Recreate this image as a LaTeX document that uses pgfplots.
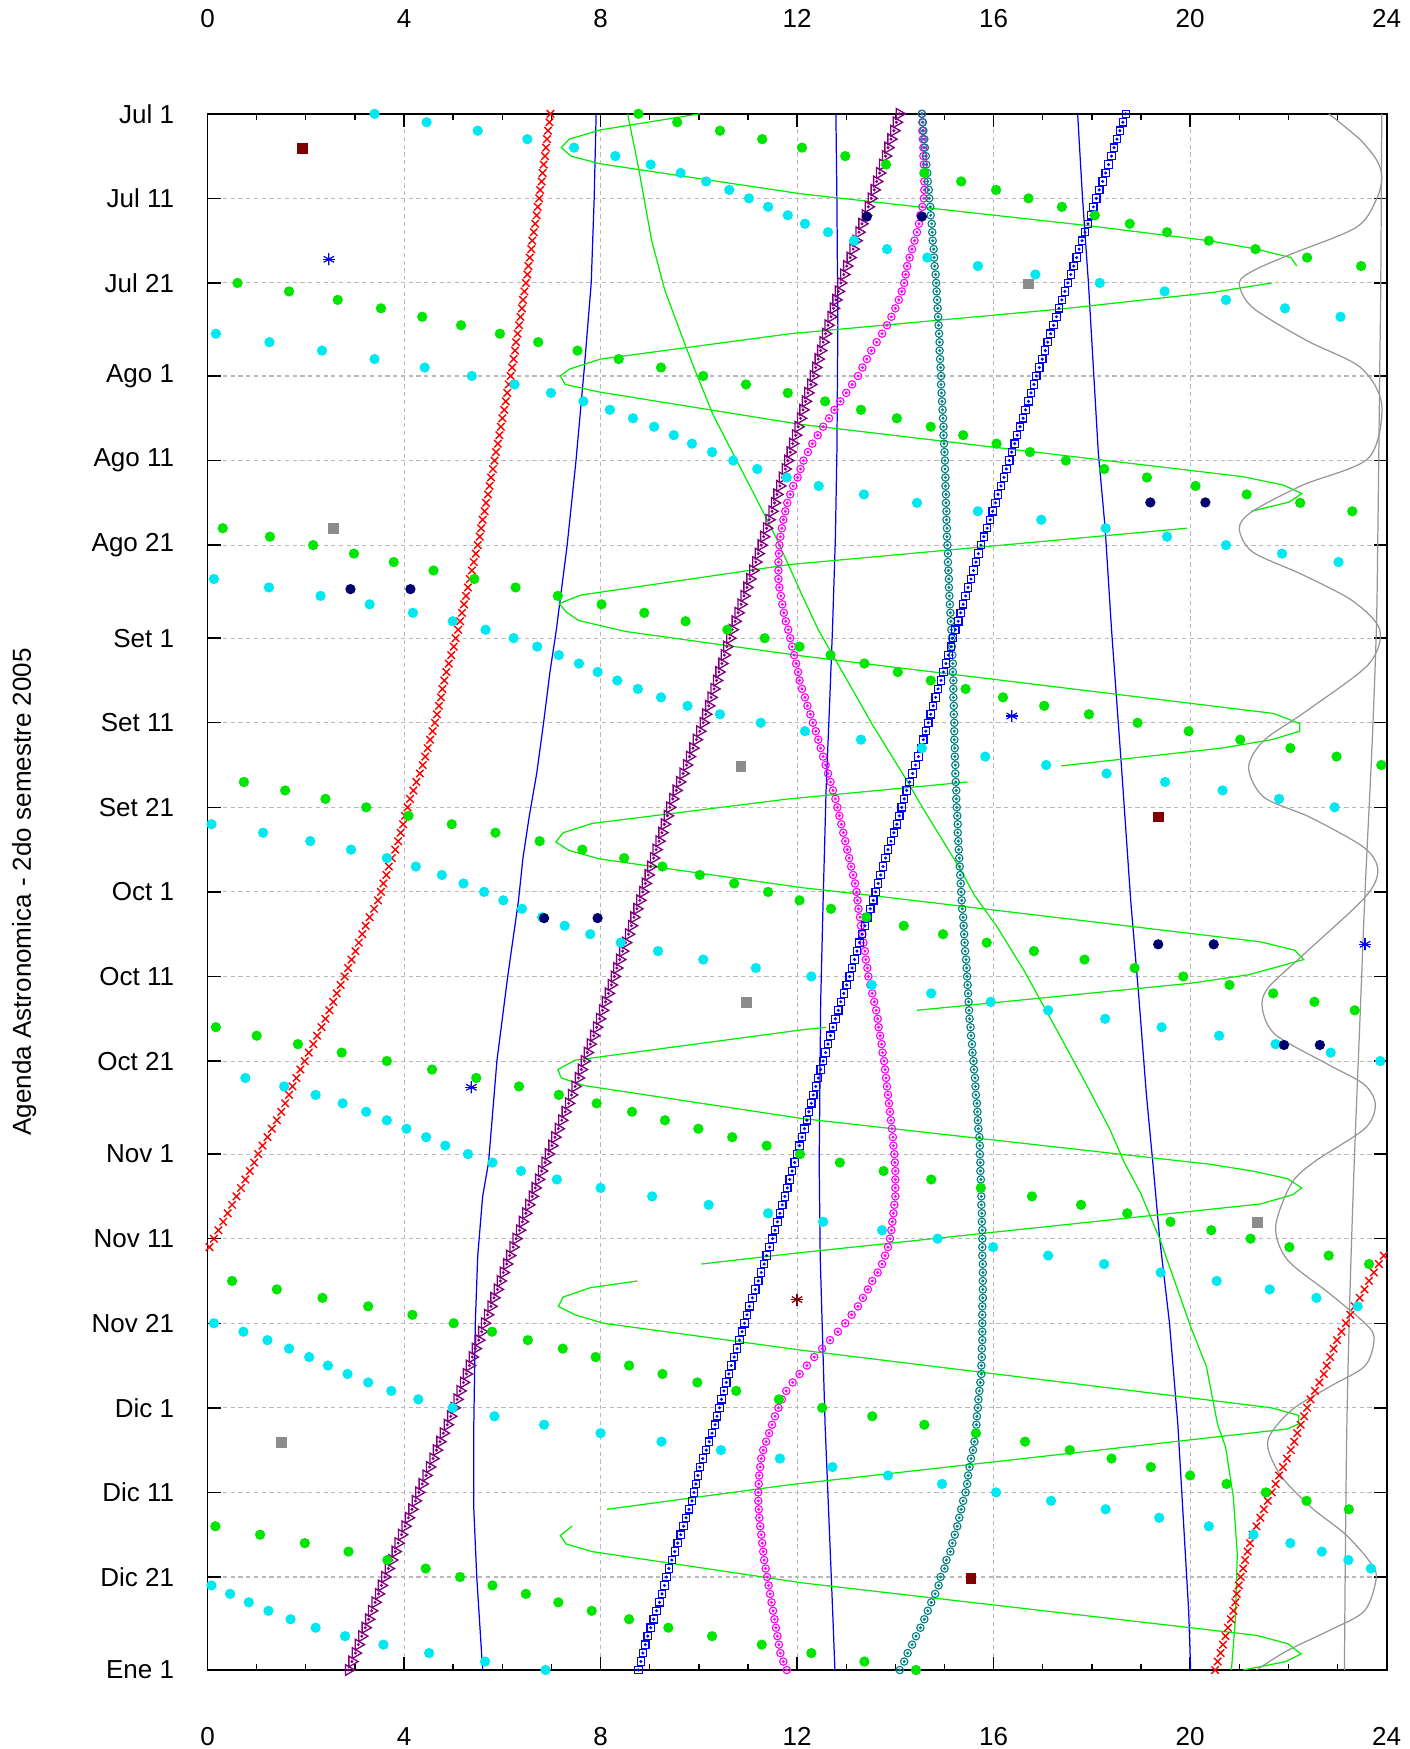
\documentclass[border=0pt]{standalone}
\usepackage{fontspec}
\setmainfont{Liberation Sans}
\usepackage{pgfplots}
\usepackage{pgfplotstable}
\pgfplotsset{compat=1.18}
\definecolor{gline}{RGB}{0,238,0}
\definecolor{gdot}{RGB}{0,230,0}
\definecolor{cdot}{RGB}{0,232,240}
\definecolor{tric}{RGB}{128,0,128}
\definecolor{navyc}{RGB}{0,0,110}
\definecolor{dred}{RGB}{128,0,0}
\definecolor{tealc}{RGB}{0,128,128}
\definecolor{grayc}{RGB}{140,140,140}
\definecolor{grayl}{RGB}{150,150,150}
\definecolor{magc}{RGB}{255,0,255}

\pgfplotstableread{
d tri mag teal sq red redb gr cy
0 14.08 14.54 14.54 18.69 6.98 nan 8.77 3.40
1 14.02 14.55 14.56 18.63 6.96 nan 9.56 4.46
2 13.97 14.55 14.57 18.57 6.93 nan 10.43 5.50
3 13.91 14.56 14.59 18.51 6.91 nan 11.29 6.51
4 13.85 14.57 14.60 18.45 6.89 nan 12.10 7.46
5 13.80 14.57 14.62 18.40 6.87 nan 12.98 8.30
6 13.74 14.58 14.63 18.34 6.84 nan 13.81 9.02
7 13.68 14.58 14.65 18.28 6.82 nan 14.59 9.63
8 13.62 14.59 14.66 18.22 6.80 nan 15.34 10.15
9 13.57 14.59 14.68 18.15 6.77 nan 16.05 10.62
10 13.51 14.58 14.69 18.09 6.75 nan 16.71 11.02
11 13.45 14.55 14.71 18.03 6.72 nan 17.39 11.41
12 13.39 14.51 14.72 17.98 6.70 nan 18.06 11.81
13 13.32 14.48 14.74 17.92 6.67 nan 18.77 12.16
14 13.26 14.44 14.75 17.86 6.64 nan 19.53 12.63
15 13.20 14.39 14.76 17.80 6.61 nan 20.38 13.16
16 13.14 14.34 14.78 17.74 6.59 nan 21.33 13.83
17 13.08 14.29 14.79 17.69 6.56 nan 22.38 14.65
18 13.01 14.24 14.80 17.63 6.53 nan 23.48 15.68
19 12.95 14.21 14.82 17.57 6.51 nan nan 16.85
20 12.89 14.18 14.83 17.51 6.48 nan 0.61 18.16
21 12.84 14.13 14.84 17.45 6.45 nan 1.66 19.48
22 12.79 14.07 14.85 17.39 6.42 nan 2.65 20.73
23 12.74 14.00 14.86 17.33 6.40 nan 3.53 21.93
24 12.69 13.92 14.87 17.28 6.37 nan 4.37 23.06
25 12.63 13.83 14.88 17.22 6.34 nan 5.16 nan
26 12.58 13.73 14.89 17.16 6.31 nan 5.95 0.17
27 12.53 13.62 14.90 17.10 6.28 nan 6.73 1.26
28 12.48 13.51 14.90 17.05 6.26 nan 7.53 2.33
29 12.43 13.42 14.91 16.99 6.23 nan 8.37 3.40
30 12.38 13.33 14.92 16.93 6.20 nan 9.23 4.42
31 12.33 13.24 14.93 16.87 6.17 nan 10.09 5.38
32 12.28 13.12 14.93 16.82 6.13 nan 10.96 6.25
33 12.22 13.00 14.94 16.76 6.10 nan 11.81 6.99
34 12.17 12.88 14.95 16.71 6.07 nan 12.57 7.65
35 12.12 12.76 14.96 16.65 6.04 nan 13.30 8.19
36 12.07 12.65 14.97 16.60 6.00 nan 14.03 8.66
37 12.02 12.53 14.98 16.54 5.97 nan 14.72 9.09
38 11.97 12.42 14.98 16.48 5.94 nan 15.38 9.49
39 11.91 12.31 14.99 16.43 5.91 nan 16.06 9.86
40 11.86 12.22 15.00 16.37 5.87 nan 16.74 10.27
41 11.81 12.13 15.01 16.32 5.84 nan 17.47 10.70
42 11.76 12.07 15.01 16.26 5.81 nan 18.25 11.19
43 11.70 12.01 15.02 16.21 5.77 nan 19.12 11.79
44 11.65 11.92 15.02 16.15 5.74 nan 20.11 12.44
45 11.59 11.86 15.03 16.09 5.71 nan 21.15 13.36
46 11.54 11.80 15.03 16.04 5.67 nan 22.24 14.44
47 11.49 11.76 15.04 15.98 5.64 nan 23.30 15.68
48 11.43 11.72 15.04 15.93 5.60 nan nan 16.97
49 11.38 11.69 15.05 15.87 5.57 nan 0.31 18.28
50 11.32 11.66 15.05 15.80 5.54 nan 1.27 19.53
51 11.27 11.64 15.06 15.74 5.50 nan 2.15 20.73
52 11.21 11.63 15.07 15.69 5.46 nan 2.98 21.87
53 11.16 11.62 15.07 15.64 5.42 nan 3.79 23.02
54 11.10 11.62 15.08 15.59 5.38 nan 4.60 nan
55 11.04 11.62 15.09 15.54 5.34 nan 5.43 0.13
56 10.98 11.64 15.09 15.48 5.30 nan 6.27 1.25
57 10.92 11.67 15.10 15.43 5.26 nan 7.13 2.30
58 10.86 11.70 15.11 15.38 5.22 nan 8.02 3.30
59 10.80 11.73 15.12 15.33 5.18 nan 8.89 4.18
60 10.74 11.77 15.13 15.28 5.14 nan 9.73 4.99
61 10.68 11.82 15.14 15.22 5.10 nan 10.58 5.66
62 10.63 11.86 15.15 15.17 5.05 nan 11.34 6.23
63 10.57 11.90 15.15 15.13 5.01 nan 12.05 6.71
64 10.52 11.94 15.16 15.08 4.96 nan 12.68 7.15
65 10.47 11.98 15.17 15.03 4.91 nan 13.37 7.56
66 10.41 12.02 15.17 14.98 4.86 nan 14.05 7.94
67 10.36 12.05 15.18 14.93 4.82 nan 14.72 8.34
68 10.31 12.10 15.18 14.87 4.78 nan 15.43 8.76
69 10.25 12.16 15.18 14.82 4.75 nan 16.19 9.23
70 10.20 12.21 15.19 14.77 4.71 nan 17.03 9.77
71 10.14 12.27 15.19 14.72 4.67 nan 17.94 10.43
72 10.09 12.32 15.20 14.67 4.63 nan 18.93 11.26
73 10.02 12.38 15.20 14.62 4.58 nan 19.97 12.16
74 9.95 12.43 15.20 14.57 4.53 nan 21.02 13.30
75 9.88 12.48 15.21 14.52 4.48 nan 22.04 14.54
76 9.81 12.53 15.21 14.47 4.43 nan 22.98 15.83
77 9.75 12.58 15.22 14.41 4.38 nan 23.89 17.07
78 9.68 12.63 15.22 14.35 4.32 nan nan 18.30
79 9.61 12.68 15.23 14.29 4.25 nan 0.74 19.49
80 9.54 12.73 15.24 14.23 4.19 nan 1.58 20.66
81 9.47 12.78 15.24 14.18 4.12 nan 2.40 21.81
82 9.41 12.82 15.25 14.13 4.07 nan 3.23 22.94
83 9.36 12.86 15.26 14.08 4.02 nan 4.09 nan
84 9.30 12.90 15.27 14.03 3.98 nan 4.97 0.08
85 9.25 12.94 15.27 13.97 3.93 nan 5.86 1.13
86 9.19 12.98 15.28 13.91 3.88 nan 6.76 2.09
87 9.13 13.02 15.29 13.85 3.82 nan 7.63 2.92
88 9.08 13.06 15.30 13.80 3.75 nan 8.48 3.65
89 9.02 13.10 15.31 13.75 3.69 nan 9.26 4.24
90 8.97 13.14 15.32 13.70 3.64 nan 10.02 4.77
91 8.91 13.18 15.33 13.65 3.58 nan 10.72 5.21
92 8.86 13.21 15.34 13.60 3.53 nan 11.41 5.63
93 8.80 13.23 15.35 13.55 3.47 nan 12.05 6.02
94 8.74 13.25 15.36 13.49 3.39 nan 12.69 6.40
95 8.68 13.28 15.38 13.43 3.30 nan 13.41 6.81
96 8.63 13.30 15.39 13.38 3.22 nan 14.17 7.27
97 8.57 13.33 15.40 13.32 3.15 nan 14.97 7.79
98 8.51 13.35 15.41 13.27 3.08 nan 15.86 8.41
99 8.45 13.38 15.42 13.22 3.01 nan 16.82 9.17
100 8.39 13.40 15.44 13.17 2.93 nan 17.85 10.09
101 8.33 13.43 15.45 13.12 2.86 nan 18.87 11.16
102 8.28 13.45 15.46 13.07 2.79 nan 19.86 12.29
103 8.22 13.49 15.47 13.01 2.71 nan 20.80 13.52
104 8.16 13.53 15.48 12.95 2.63 nan 21.69 14.73
105 8.10 13.57 15.49 12.89 2.56 nan 22.53 15.94
106 8.04 13.61 15.50 12.84 2.48 nan 23.35 17.11
107 7.98 13.64 15.51 12.78 2.40 nan nan 18.27
108 7.92 13.66 15.53 12.73 2.32 nan 0.17 19.42
109 7.86 13.69 15.54 12.68 2.23 nan 1.00 20.59
110 7.79 13.72 15.56 12.63 2.15 nan 1.84 21.74
111 7.73 13.74 15.57 12.58 2.06 nan 2.73 22.86
112 7.67 13.77 15.59 12.53 1.98 nan 3.65 23.87
113 7.61 13.79 15.60 12.48 1.89 nan 4.57 nan
114 7.55 13.81 15.62 12.43 1.81 nan 5.47 0.77
115 7.48 13.83 15.63 12.38 1.73 nan 6.34 1.56
116 7.41 13.85 15.64 12.33 1.66 nan 7.15 2.20
117 7.35 13.87 15.66 12.29 1.58 nan 7.92 2.75
118 7.28 13.89 15.67 12.24 1.50 nan 8.64 3.23
119 7.21 13.91 15.68 12.20 1.41 nan 9.31 3.65
120 7.14 13.93 15.69 12.15 1.31 nan 9.99 4.05
121 7.07 13.95 15.71 12.10 1.22 nan 10.68 4.45
122 7.01 13.96 15.72 12.05 1.12 nan 11.38 4.84
123 6.94 13.98 15.72 12.00 1.03 nan 12.06 5.30
124 6.87 13.99 15.73 11.95 0.95 nan 12.87 5.80
125 6.80 14.00 15.73 11.90 0.86 nan 13.76 6.38
126 6.74 14.00 15.74 11.85 0.77 nan 14.73 7.11
127 6.67 14.00 15.74 11.80 0.68 nan 15.74 8.00
128 6.61 14.00 15.75 11.75 0.59 nan 16.78 9.05
129 6.54 13.98 15.75 11.70 0.50 nan 17.78 10.20
130 6.48 13.96 15.76 11.65 0.41 nan 18.72 11.41
131 6.41 13.94 15.76 11.60 0.32 nan 19.60 12.53
132 6.35 13.92 15.77 11.55 0.22 nan 20.43 13.73
133 6.28 13.89 15.77 11.50 0.13 nan 21.23 14.86
134 6.22 13.85 15.77 11.44 0.04 nan 22.02 15.99
135 6.15 13.79 15.77 11.38 nan 23.94 22.82 17.11
136 6.09 13.73 15.78 11.33 nan 23.84 23.64 18.25
137 6.02 13.64 15.78 11.27 nan 23.74 nan 19.40
138 5.96 13.53 15.78 11.21 nan 23.64 0.50 20.54
139 5.90 13.44 15.78 11.15 nan 23.55 1.41 21.62
140 5.83 13.34 15.78 11.09 nan 23.45 2.34 22.57
141 5.77 13.24 15.77 11.03 nan 23.35 3.27 23.41
142 5.70 13.11 15.77 10.98 nan 23.26 4.17 nan
143 5.64 12.98 15.77 10.93 nan 23.17 5.01 0.13
144 5.58 12.83 15.77 10.88 nan 23.08 5.79 0.73
145 5.52 12.67 15.77 10.83 nan 22.99 6.52 1.22
146 5.45 12.51 15.76 10.78 nan 22.92 7.23 1.66
147 5.39 12.35 15.76 10.72 nan 22.85 7.90 2.07
148 5.33 12.20 15.75 10.66 nan 22.78 8.58 2.45
149 5.27 12.05 15.75 10.61 nan 22.72 9.26 2.85
150 5.21 11.91 15.73 10.56 nan 22.63 9.97 3.27
151 5.14 11.78 15.71 10.51 nan 22.54 10.76 3.74
152 5.08 11.69 15.69 10.46 nan 22.45 11.63 4.29
153 5.02 11.62 15.68 10.42 nan 22.38 12.51 4.99
154 4.95 11.55 15.66 10.37 nan 22.32 13.53 5.84
155 4.88 11.49 15.65 10.33 nan 22.25 14.59 6.85
156 4.80 11.43 15.64 10.27 nan 22.18 15.64 8.00
157 4.73 11.37 15.61 10.21 nan 22.12 16.64 9.24
158 4.66 11.31 15.58 10.15 nan 22.05 17.55 10.45
159 4.59 11.27 15.54 10.08 nan 21.97 18.40 11.65
160 4.52 11.25 15.51 10.02 nan 21.89 19.20 12.72
161 4.45 11.23 15.48 9.98 nan 21.81 20.00 13.85
162 4.37 11.22 15.46 9.94 nan 21.74 20.74 14.95
163 4.30 11.21 15.43 9.90 nan 21.66 21.54 16.05
164 4.23 11.21 15.38 9.86 nan 21.58 22.37 17.17
165 4.16 11.22 15.34 9.80 nan 21.50 23.23 18.28
166 4.09 11.23 15.30 9.74 nan 21.43 nan 19.37
167 4.02 11.25 15.26 9.69 nan 21.35 0.16 20.38
168 3.95 11.27 15.21 9.63 nan 21.27 1.07 21.29
169 3.88 11.29 15.16 9.57 nan 21.22 1.98 22.04
170 3.82 11.31 15.12 9.51 nan 21.17 2.87 22.68
171 3.75 11.33 15.04 9.45 nan 21.12 3.66 23.22
172 3.68 11.36 15.00 9.39 nan 21.08 4.44 23.68
173 3.61 11.39 14.92 9.34 nan 21.03 5.14 nan
174 3.54 11.42 14.88 9.30 nan 20.99 5.80 0.08
175 3.48 11.45 14.81 9.25 nan 20.95 6.48 0.46
176 3.41 11.48 14.73 9.20 nan 20.92 7.14 0.84
177 3.34 11.51 14.66 9.14 nan 20.88 7.82 1.24
178 3.28 11.54 14.59 9.08 nan 20.83 8.58 1.69
179 3.21 11.57 14.51 9.02 nan 20.77 9.38 2.20
180 3.14 11.60 14.42 8.96 nan 20.72 10.27 2.80
181 3.07 11.63 14.34 8.91 nan 20.67 11.28 3.58
182 3.01 11.66 14.25 8.86 nan 20.62 12.29 4.51
183 2.94 11.72 14.18 8.82 nan 20.56 13.37 5.65
184 2.87 11.79 14.09 8.77 nan 20.51 14.42 6.88
}\daily

\begin{document}
\begin{tikzpicture}
\useasboundingbox (-2.075,-0.79) rectangle (12.015,16.698);
\begin{axis}[at={(0,0)}, anchor=south west, scale only axis,
  width=11.79cm, height=15.56cm,
  xmin=0, xmax=24, ymin=0, ymax=184, y dir=reverse, clip=false,
  xtick={0,4,...,24}, minor x tick num=3,
  ytick={0,10,20,31,41,51,62,72,82,92,102,112,123,133,143,153,163,173,184},
  yticklabels={Jul 1,Jul 11,Jul 21,Ago 1,Ago 11,Ago 21,Set 1,Set 11,Set 21,Oct 1,Oct 11,Oct 21,Nov 1,Nov 11,Nov 21,Dic 1,Dic 11,Dic 21,Ene 1},
  grid=major,
  major grid style={dash pattern=on 1.2pt off 1pt, color=black!28, line width=0.3pt},
  major tick length=1.3mm, minor tick length=0.65mm,
  every tick/.style={black, line width=0.4pt},
  axis line style={black, line width=0.5pt},
  tick label style={font=\fontsize{7.4}{8.8}\selectfont},
  /pgf/number format/assume math mode=true,
  yticklabel style={xshift=-2.1mm},
  xticklabel style={yshift=-4.5mm},
  ylabel={Agenda Astronomica - 2do semestre 2005},
  every axis y label/.style={at={(axis description cs:-0.1555,0.5)}, anchor=center, rotate=90, font=\fontsize{7.4}{8.8}\selectfont},
]
% lines
\addplot[blue, line width=0.35pt, mark=none] coordinates {(7.91,0) (7.87,10) (7.81,20) (7.67,30) (7.50,41) (7.32,51) (7.10,61) (6.97,66) (6.84,72) (6.70,78) (6.55,83) (6.42,88) (6.33,93) (6.11,102) (5.89,112) (5.72,124) (5.60,128) (5.50,135) (5.45,143) (5.42,155) (5.42,165) (5.48,173) (5.60,184)};
\addplot[blue, line width=0.35pt, mark=none] coordinates {(12.79,0) (12.81,10) (12.83,25) (12.81,40) (12.78,50) (12.72,61) (12.66,70) (12.59,80) (12.53,93) (12.48,105) (12.45,124) (12.47,135) (12.52,145) (12.57,155) (12.64,165) (12.71,175) (12.77,184)};
\addplot[blue, line width=0.35pt, mark=none] coordinates {(17.71,0) (17.81,10) (17.93,20) (18.03,30) (18.13,40) (18.27,49) (18.40,61) (18.60,77) (18.79,93) (18.95,104) (19.11,116) (19.24,124) (19.38,133) (19.58,143) (19.75,155) (19.83,163) (19.89,169) (19.97,177) (20.01,184)};
\addplot[gline, line width=0.35pt, mark=none] coordinates {(8.55,0) (8.77,6.3) (9.04,15) (9.31,20.9) (9.74,27.6) (9.9,30) (10.29,35.6) (11.1,44.7) (11.58,50.2) (12.1,56.9) (12.43,61) (13.1,67.8) (13.53,72.2) (14.2,78.5) (14.55,82) (15.30,89.1) (15.61,92.4) (16.09,96.3) (16.63,101.4) (17.34,108.9) (17.89,114.8) (18.36,120) (18.66,124) (18.99,127.6) (19.38,133) (20.01,143.4) (20.33,148.1) (20.56,155) (20.72,157.6) (20.88,163.6) (20.96,170.3) (20.92,178.1) (20.84,184)};
\addplot[gline, line width=0.35pt, mark=none] coordinates {(10.02,0) (8.0,1.9) (7.36,3.0) (7.2,4.0) (7.4,5.0) (7.98,5.9) (12.09,9.47) (17.89,13.2) (20.38,15) (21.35,16) (22.05,17) (22.17,18)};
\addplot[gline, line width=0.35pt, mark=none] coordinates {(21.66,20) (20.48,21.1) (17.34,23.1) (11.86,26) (8.0,29) (7.36,30.2) (7.18,31) (7.28,32) (7.98,32.9) (12.05,36.7) (21.07,42.9) (21.9,43.9) (22.27,44.9) (22.02,45.9) (21.24,47)};
\addplot[gline, line width=0.35pt, mark=none] coordinates {(19.93,49) (11.84,53.3) (7.6,56.9) (7.16,57.9) (7.3,58.9) (7.55,59.9) (8.5,61.2) (12.1,64.1) (21.70,70.9) (22.23,72.1) (22.23,73) (21.66,74) (20.64,75) (17.38,77.1)};
\addplot[gline, line width=0.35pt, mark=none] coordinates {(15.47,79) (11.84,81) (7.83,83.9) (7.24,85) (7.09,86.1) (7.36,87.1) (7.98,88.1) (12.1,91.5) (13.49,92.4) (21.43,97.9) (22.13,98.9) (22.31,100) (21.19,101.8) (20.01,102.8) (14.44,106)};
\addplot[gline, line width=0.35pt, mark=none] coordinates {(12.59,108) (12.11,108.3) (7.48,111.9) (7.13,113) (7.2,114) (7.67,114.9) (12.11,118.8) (20.4,124.2) (21.27,125) (21.98,125.9) (22.27,127) (22.09,127.8) (21.43,128.9) (11.84,134.8) (10.05,136)};
\addplot[gline, line width=0.35pt, mark=none] coordinates {(8.75,138) (7.79,138.8) (7.24,139.9) (7.14,141) (7.48,142) (8.06,143) (12.11,146.2) (21.66,153) (22.21,153.9) (22.21,154.9) (21.98,155.5) (11.84,162.1) (8.13,165)};
\addplot[gline, line width=0.35pt, mark=none] coordinates {(7.42,167) (7.18,168.1) (7.3,169.1) (7.83,170) (12.11,173.7) (21.35,179.9) (21.99,180.9) (22.26,182.1) (21.95,183) (21.08,184)};
\addplot[grayl, line width=0.35pt, mark=none, smooth] coordinates {(22.82,0) (23.45,3) (23.8,5.5) (23.9,7.5) (23.8,10) (23.39,13.4) (22.05,16.6) (21.3,18.5) (21.0,20) (21.27,22.9) (22.37,26.8) (23.47,30) (23.9,34.4) (23.63,40.7) (22.29,43.9) (21.27,47) (21.0,49) (21.27,51.8) (22.29,54.5) (23.31,57.6) (23.86,61) (23.63,65.1) (22.37,70.6) (21.5,74.1) (21.19,77.3) (21.5,80.8) (22.45,83.2) (23.55,86.8) (23.82,89.5) (23.55,92.7) (22.29,99.5) (21.58,103.4) (21.47,105.8) (21.74,108.9) (22.84,112.5) (23.55,114.8) (23.77,117.2) (23.55,120) (22.53,123.9) (22.06,126.5) (21.74,131.6) (21.98,135.5) (22.84,139.5) (23.63,143.4) (23.74,145.2) (23.55,148.1) (22.84,150.5) (22.06,153.3) (21.58,156.9) (21.82,160.8) (22.45,164.7) (23.15,167.9) (23.63,171) (23.79,173) (23.55,177) (22.84,179.3) (21.98,181.7) (21.35,184)};
\addplot[grayl, line width=0.35pt, mark=none, smooth] coordinates {(23.90,0) (23.88,20) (23.86,30) (23.82,50) (23.79,61) (23.70,75) (23.56,92) (23.45,108) (23.34,124) (23.25,140) (23.19,155) (23.16,170) (23.14,184)};
% daily marker series
\addplot[only marks, red, mark=x, mark size=1.5pt, line width=0.4pt] table[x=red, y=d] {\daily};
\addplot[only marks, red, mark=x, mark size=1.5pt, line width=0.4pt] table[x=redb, y=d] {\daily};
\addplot[only marks, tric, mark=triangle, mark size=1.75pt, line width=0.38pt, every mark/.append style={rotate=-90}] table[x=tri, y=d] {\daily};
\addplot[only marks, tric, mark=*, mark size=0.2pt] table[x=tri, y=d] {\daily};
\addplot[only marks, magc, mark=o, mark size=1.05pt, line width=0.32pt] table[x=mag, y=d] {\daily};
\addplot[only marks, magc, mark=*, mark size=0.2pt] table[x=mag, y=d] {\daily};
\addplot[only marks, tealc, mark=o, mark size=1.05pt, line width=0.32pt] table[x=teal, y=d] {\daily};
\addplot[only marks, tealc, mark=*, mark size=0.2pt] table[x=teal, y=d] {\daily};
\addplot[only marks, blue, mark=square, mark size=1.05pt, line width=0.32pt] table[x=sq, y=d] {\daily};
\addplot[only marks, blue, mark=*, mark size=0.2pt] table[x=sq, y=d] {\daily};
\addplot[only marks, gdot, mark=*, mark size=1.25pt, mark options={draw=gdot, fill=gdot}] table[x=gr, y=d] {\daily};
\addplot[only marks, cdot, mark=*, mark size=1.25pt, mark options={draw=cdot, fill=cdot}] table[x=cy, y=d] {\daily};
% events
\addplot[only marks, navyc, mark=*, mark size=1.25pt] coordinates {(13.42,12.15) (14.54,12.15) (19.19,45.95) (20.31,45.95) (2.91,56.2) (4.13,56.2) (6.85,95.1) (7.94,95.1) (19.35,98.2) (20.48,98.2) (21.91,110.1) (22.64,110.1)};
\addplot[only marks, grayc, mark=square*, mark size=1.3pt] coordinates {(16.71,20.15) (2.56,49.05) (10.86,77.2) (10.97,105.1) (21.37,131.1) (1.51,157.1)};
\addplot[only marks, dred, mark=square*, mark size=1.3pt] coordinates {(1.93,4.12) (19.36,83.15) (15.54,173.2)};
\addplot[only marks, blue, mark=asterisk, mark size=1.7pt, line width=0.35pt] coordinates {(2.47,17.2) (16.37,71.2) (23.56,98.2) (5.37,115.1)};
\addplot[only marks, blue, mark=+, mark size=1.7pt, line width=0.35pt] coordinates {(2.47,17.2) (16.37,71.2) (23.56,98.2) (5.37,115.1)};
\addplot[only marks, dred, mark=asterisk, mark size=1.7pt, line width=0.35pt] coordinates {(12.0,140.2)};
\addplot[only marks, dred, mark=+, mark size=1.7pt, line width=0.35pt] coordinates {(12.0,140.2)};
\end{axis}
\begin{axis}[at={(0,0)}, anchor=south west, scale only axis,
  width=11.79cm, height=15.56cm,
  xmin=0, xmax=24, ymin=0, ymax=184,
  hide y axis, axis x line*=top, axis line style={draw=none},
  xtick={0,4,...,24}, major tick length=0pt, minor tick num=0,
  tick label style={font=\fontsize{7.4}{8.8}\selectfont},
  /pgf/number format/assume math mode=true,
  xticklabel style={yshift=7.4mm},
]
\end{axis}
\end{tikzpicture}
\end{document}
